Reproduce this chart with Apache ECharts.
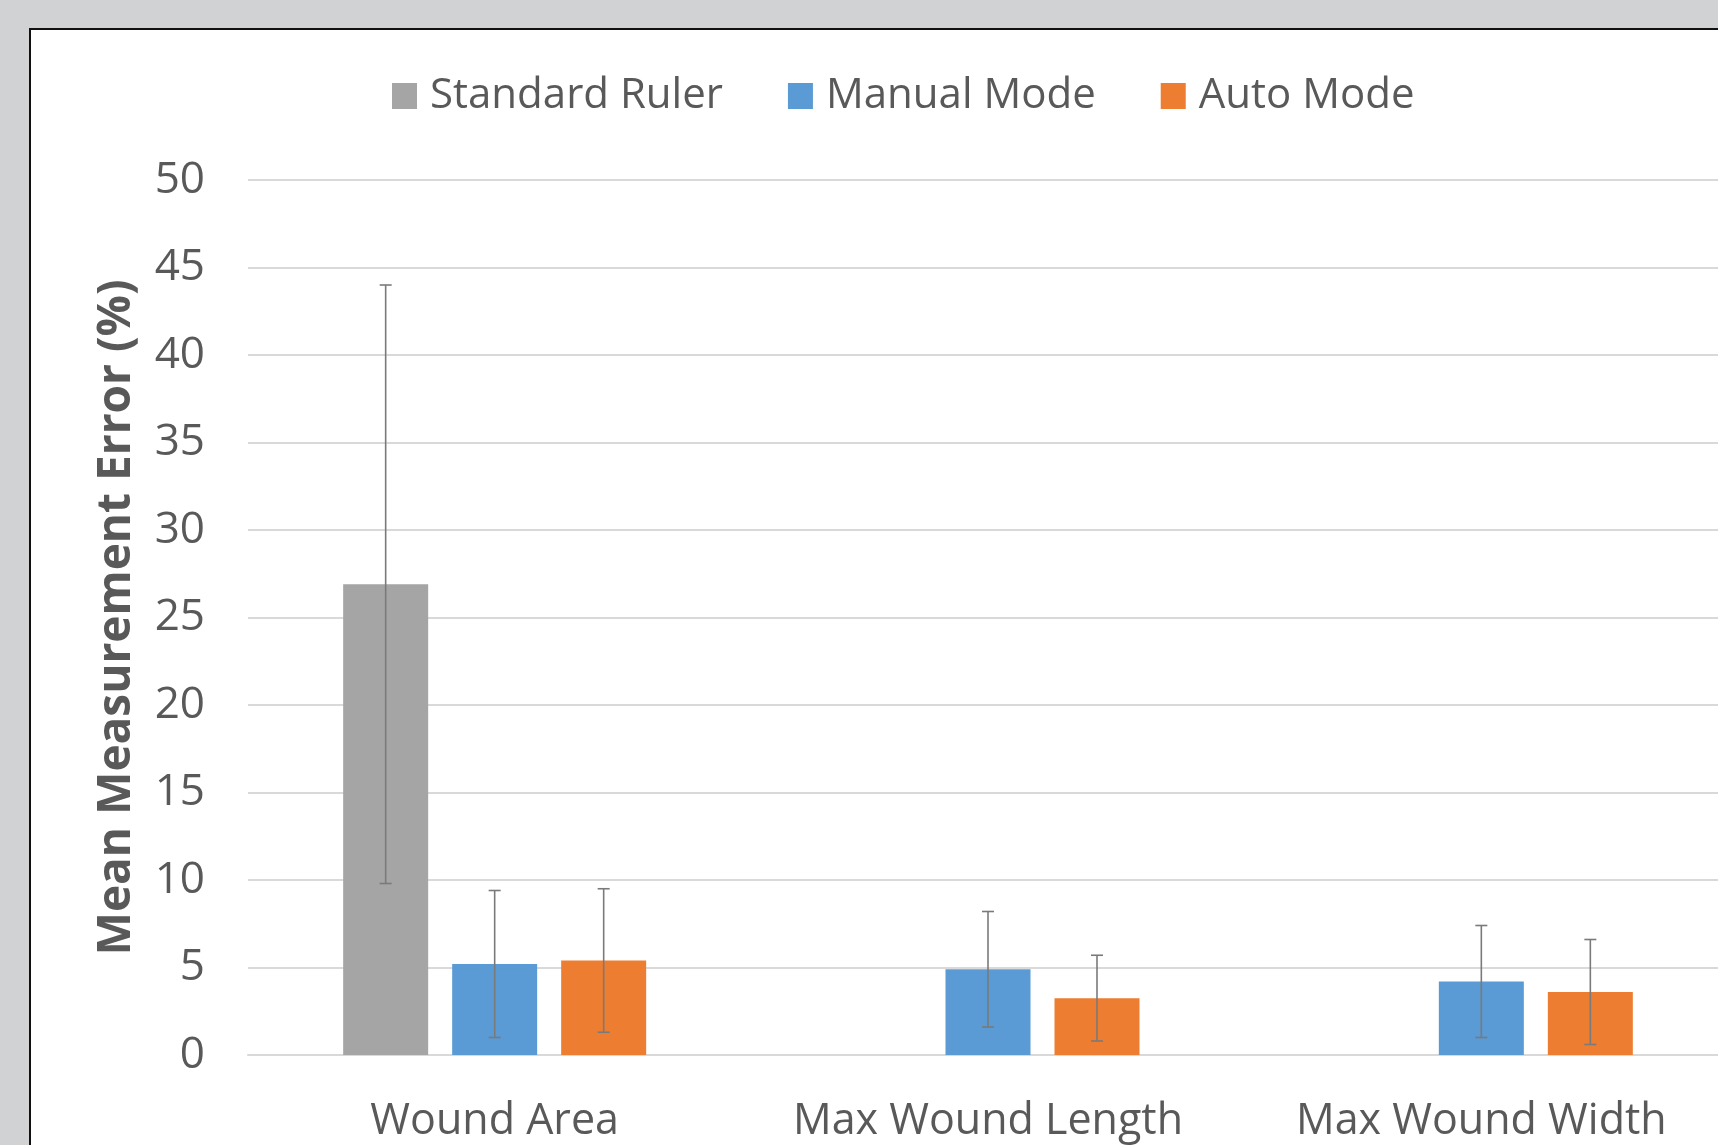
<!DOCTYPE html>
<html>
<head>
<meta charset="utf-8">
<script src="https://cdn.jsdelivr.net/npm/echarts@6/dist/echarts.min.js"></script>
<style>
html,body{margin:0;padding:0;background:#d1d2d4;overflow:hidden;width:1718px;height:1145px;}
#chart{width:1760px;height:1145px;}
</style>
</head>
<body>
<div id="chart"></div>
<script>
const categories = ['Wound Area', 'Max Wound Length', 'Max Wound Width'];
const seriesNames = ['Standard Ruler', 'Manual Mode', 'Auto Mode'];
const standardRuler = [26.9, null, null];
const manualMode = [5.2, 4.9, 4.2];
const autoMode = [5.4, 3.25, 3.6];
const standardRulerErr = [17.1, null, null];
const manualModeErr = [4.2, 3.3, 3.2];
const autoModeErr = [4.1, 2.45, 3.0];
const yTicks = [0, 5, 10, 15, 20, 25, 30, 35, 40, 45, 50];

const colors = ['#a5a5a5', '#5b9bd5', '#ed7d31'];
const textColor = '#595959';
const fontFamily = '"Open Sans", sans-serif';
const barWidth = 85;
const barGapPx = 24;

const values = [standardRuler, manualMode, autoMode];
const errs = [standardRulerErr, manualModeErr, autoModeErr];

const chart = echarts.init(document.getElementById('chart'));

const barSeries = values.map((vals, i) => ({
  name: seriesNames[i],
  type: 'bar',
  barWidth: barWidth,
  barGap: (barGapPx / barWidth * 100) + '%',
  itemStyle: { color: colors[i] },
  data: vals.map(v => v == null ? '-' : v),
  z: 2
}));

const errSeries = values.map((vals, i) => ({
  name: seriesNames[i] + ' err',
  type: 'custom',
  z: 5,
  silent: true,
  data: vals.map((v, j) => v == null ? null : [j, v - errs[i][j], v + errs[i][j]]).filter(d => d),
  renderItem: function (params, api) {
    const c = api.value(0);
    const lo = api.coord([c, api.value(1)]);
    const hi = api.coord([c, api.value(2)]);
    const off = (i - 1) * (barWidth + barGapPx);
    const x = lo[0] + off;
    const hw = 6;
    const style = { stroke: '#7a7a7a', lineWidth: 1.6 };
    return {
      type: 'group',
      children: [
        { type: 'line', shape: { x1: x, y1: lo[1], x2: x, y2: hi[1] }, style: style },
        { type: 'line', shape: { x1: x - hw, y1: hi[1], x2: x + hw, y2: hi[1] }, style: style },
        { type: 'line', shape: { x1: x - hw, y1: lo[1], x2: x + hw, y2: lo[1] }, style: style }
      ]
    };
  }
}));

chart.setOption({
  backgroundColor: '#d1d2d4',
  animation: false,
  graphic: [{
    type: 'rect',
    z: -100,
    shape: { x: 30, y: 29, width: 1760, height: 1140 },
    style: { fill: '#ffffff', stroke: '#111111', lineWidth: 2 }
  }],
  legend: {
    data: seriesNames,
    left: 392,
    top: 75,
    padding: 0,
    itemWidth: 25,
    itemHeight: 26,
    itemGap: 65,
    icon: 'rect',
    textStyle: { color: textColor, fontSize: 42, fontFamily: fontFamily, padding: [0, 0, 0, 8] }
  },
  grid: { left: 248, width: 1480, top: 180, bottom: 90, containLabel: false },
  xAxis: {
    type: 'category',
    data: categories,
    axisLine: { show: true, lineStyle: { color: '#d9d9d9', width: 2 } },
    axisTick: { show: false },
    axisLabel: { color: textColor, fontSize: 43, fontFamily: fontFamily, margin: 45, interval: 0 }
  },
  yAxis: {
    type: 'value',
    min: yTicks[0],
    max: yTicks[yTicks.length - 1],
    interval: 5,
    name: 'Mean Measurement Error (%)',
    nameLocation: 'middle',
    nameGap: 108,
    nameTextStyle: { color: textColor, fontSize: 46, fontWeight: 'bold', fontFamily: fontFamily },
    axisLine: { show: false },
    axisTick: { show: false },
    axisLabel: { color: textColor, fontSize: 44, fontFamily: fontFamily, margin: 43 },
    splitLine: { lineStyle: { color: '#d9d9d9', width: 2 } }
  },
  series: barSeries.concat(errSeries)
});
</script>
</body>
</html>
